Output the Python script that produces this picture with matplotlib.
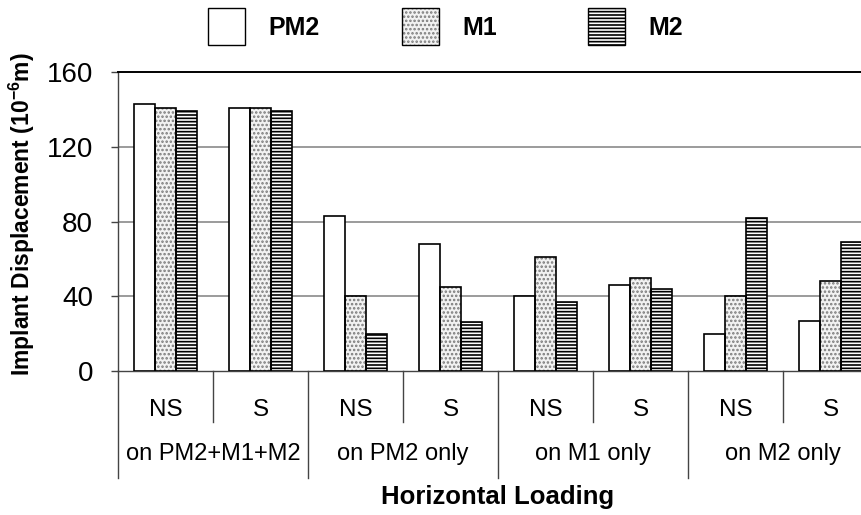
import numpy as np
import matplotlib
matplotlib.use('Agg')
import matplotlib.pyplot as plt
from matplotlib.patches import Rectangle
from matplotlib.transforms import blended_transform_factory

plt.rcParams['font.family'] = ['Liberation Sans', 'DejaVu Sans']
plt.rcParams['mathtext.fontset'] = 'custom'
plt.rcParams['mathtext.rm'] = 'Liberation Sans:bold'
plt.rcParams['mathtext.bf'] = 'Liberation Sans:bold'
plt.rcParams['mathtext.default'] = 'bf'
plt.rcParams['hatch.linewidth'] = 1.2

# data
conditions = ['NS', 'S', 'NS', 'S', 'NS', 'S', 'NS', 'S']
loadings = ['on PM2+M1+M2', 'on PM2 only', 'on M1 only', 'on M2 only']
series = ['PM2', 'M1', 'M2']
pm2 = [143, 141, 83, 68, 40, 46, 20, 27]
m1 = [141, 141, 40, 45, 61, 50, 40, 48]
m2 = [139, 139, 20, 26, 37, 44, 82, 69]
yticks = [0, 40, 80, 120, 160]

# fill colour, hatch, hatch colour per series
styles = [('white', '', 'white'),
          ('#f2f2f2', '....', '#7a7a7a'),
          ('white', '-----', 'black')]

fig = plt.figure(figsize=(8.62, 5.15), dpi=100)
ax = fig.add_axes([118 / 862, 144 / 515, 760 / 862, 299 / 515])

x = np.arange(len(conditions))
w = 0.22
for k, vals in enumerate([pm2, m1, m2]):
    fc, hatch, hc = styles[k]
    pos = x + (k - 1) * w
    ax.bar(pos, vals, w, color=fc, hatch=hatch, edgecolor=hc, linewidth=0, zorder=3)
    ax.bar(pos, vals, w, fill=False, edgecolor='black', linewidth=1.2, zorder=4)

ax.set_xlim(-0.5, len(conditions) - 0.5)
ax.set_ylim(0, 160)
ax.set_yticks(yticks)
ax.set_yticklabels([str(t) for t in yticks], fontsize=20)
ax.tick_params(axis='y', length=5, width=1, pad=13, color='#444444')
ax.set_xticks([])
for t in yticks[1:-1]:
    ax.axhline(t, color='#808080', linewidth=1.1, zorder=1)
ax.spines['top'].set_color('black')
ax.spines['top'].set_linewidth(1.4)
ax.spines['right'].set_visible(False)
ax.spines['left'].set_color('#444444')
ax.spines['bottom'].set_color('#444444')
ax.spines['left'].set_linewidth(1)
ax.spines['bottom'].set_linewidth(1)

# category table below the axis
tr = blended_transform_factory(ax.transData, ax.transAxes)
for i in range(len(conditions) + 1):
    b = i - 0.5
    ybot = -0.358 if i % 2 == 0 else -0.171
    ax.plot([b, b], [0, ybot], color='#444444', linewidth=1, transform=tr, clip_on=False)
for i, c in enumerate(conditions):
    ax.text(i, -0.13, c, transform=tr, ha='center', va='center', fontsize=17.5)
for j, lab in enumerate(loadings):
    ax.text(2 * j + 0.5, -0.278, lab, transform=tr, ha='center', va='center', fontsize=17)

fig.text(498 / 862, 1 - 497 / 515, 'Horizontal Loading', ha='center', va='center',
         fontsize=18.5, fontweight='bold')
fig.text(22 / 862, 1 - 214 / 515, r'Implant Displacement (10$^{-6}$m)', rotation=90,
         ha='center', va='center', fontsize=16.5, fontweight='bold')

# legend drawn by hand
box_x = [208, 402, 588]
for k, name in enumerate(series):
    fc, hatch, hc = styles[k]
    x0 = box_x[k] / 862
    y0 = 1 - 45 / 515
    bw, bh = 37 / 862, 37 / 515
    fig.add_artist(Rectangle((x0, y0), bw, bh, transform=fig.transFigure,
                             facecolor=fc, hatch=hatch, edgecolor=hc, linewidth=0))
    fig.add_artist(Rectangle((x0, y0), bw, bh, transform=fig.transFigure,
                             fill=False, edgecolor='black', linewidth=1))
    fig.text((box_x[k] + 60) / 862, 1 - 28 / 515, name, ha='left', va='center',
             fontsize=18, fontweight='bold')

fig.savefig('out.png', dpi=100)
